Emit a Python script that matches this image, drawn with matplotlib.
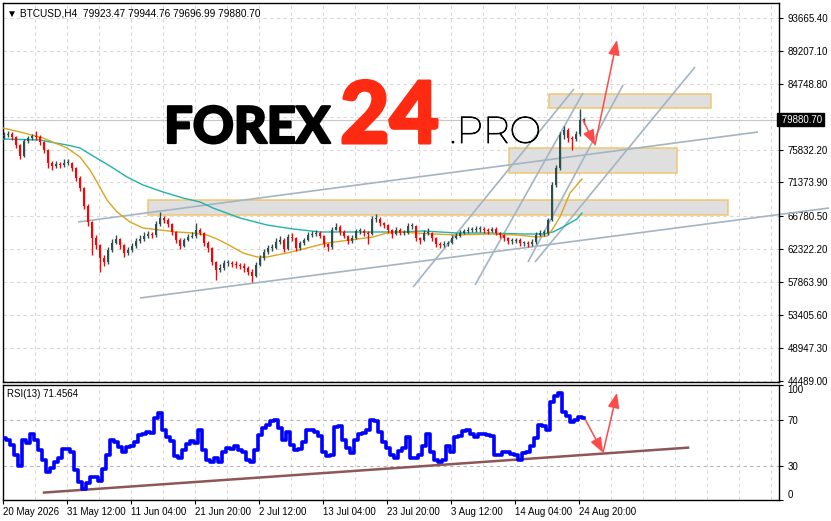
import numpy as np
import matplotlib
matplotlib.use("Agg")
import matplotlib.pyplot as plt
import matplotlib.patheffects as pe
from matplotlib.patches import Rectangle
from matplotlib.textpath import TextPath
from matplotlib import font_manager as fm

close_px = [77810, 77950, 77540, 76460, 74970, 77000, 77400, 77680, 77540, 76860,
            75780, 74020, 73610, 73880, 73750, 74020, 74020, 73340, 71980, 70630,
            68190, 66020, 63850, 62910, 61140, 60600, 62230, 63180, 63720, 62910,
            61820, 62230, 62770, 63450, 63720, 64130, 64400, 64260, 65750, 66560,
            66290, 65750, 64670, 63580, 62770, 63580, 63990, 64130, 64940, 64530,
            63180, 62500, 60600, 59520, 59790, 60470, 60470, 60330, 60200, 60060,
            59790, 59250, 58700, 60200, 61140, 61960, 62500, 62500, 63310, 63580,
            62360, 63990, 63850, 62500, 63180, 63580, 64260, 64400, 64530, 64130,
            63040, 62630, 64940, 65340, 64670, 64130, 63450, 63850, 64800, 64800,
            64530, 64400, 66430, 66430, 65890, 65620, 64940, 64400, 64940, 64530,
            64530, 65480, 65480, 63850, 63580, 64530, 64530, 63850, 63040, 62910,
            63040, 63180, 63850, 64130, 64530, 64800, 64940, 64940, 65070, 65070,
            64940, 64800, 65070, 64530, 64260, 63850, 63450, 63450, 63580, 63180,
            63180, 63040, 63310, 64260, 64530, 64530, 66290, 71040, 73340, 77810,
            78490, 77400, 77270, 77950, 79840, 79880.70]
high_px = [78200, 78350, 78200, 77700, 76600, 77300, 77700, 78000, 78400, 77800,
           77000, 75900, 74300, 74300, 74200, 74500, 74600, 74200, 73500, 72200,
           70800, 68400, 66200, 64300, 63100, 61500, 62600, 63700, 64300, 63900,
           63100, 62700, 63200, 63900, 64200, 64600, 64800, 64700, 66100, 67350,
           66900, 66500, 65900, 64800, 63800, 63900, 64400, 64600, 65900, 65200,
           64700, 63400, 62700, 60800, 60300, 60900, 60900, 60800, 60700, 60500,
           60400, 60000, 59600, 60600, 61600, 62400, 62900, 63000, 63800, 64100,
           63800, 64400, 64500, 64000, 63500, 63900, 64600, 64800, 64900, 64800,
           64300, 63200, 65300, 65900, 65600, 64900, 64300, 64200, 65100, 65200,
           65100, 64800, 66800, 67150, 66700, 66000, 65800, 65100, 65300, 65200,
           64900, 65900, 65900, 65600, 64000, 64900, 65200, 64700, 64000, 63300,
           63400, 63500, 64200, 64500, 64900, 65100, 65300, 65400, 65500, 65500,
           65300, 65200, 65400, 65300, 64700, 64400, 64000, 63900, 63900, 63800,
           63500, 63400, 63700, 64600, 64900, 64900, 66600, 71400, 73800, 78200,
           79000, 78700, 77700, 78300, 81300, 80100]
low_px = [77300, 77500, 77200, 76100, 74500, 74800, 76700, 77200, 77200, 76500,
          75400, 73300, 73100, 73300, 73400, 73500, 73700, 72900, 71600, 70200,
          67800, 65500, 61600, 62300, 59300, 60000, 60300, 61900, 63000, 62400,
          61300, 61500, 62000, 62500, 63200, 63500, 63900, 63900, 64000, 65500,
          65900, 65300, 64300, 63200, 62400, 62600, 63400, 63800, 63900, 64200,
          62800, 62000, 60200, 58200, 59200, 59500, 60000, 59900, 59800, 59600,
          59300, 58800, 57900, 58500, 60000, 60900, 61700, 62100, 62300, 63100,
          61900, 62200, 63500, 62100, 62200, 62900, 63400, 64000, 64100, 63800,
          62600, 62100, 62400, 65000, 64300, 63800, 63000, 63200, 63700, 64400,
          64100, 63000, 64200, 66000, 65500, 65200, 64500, 63900, 64200, 64200,
          64200, 64400, 65100, 63400, 63100, 63400, 64200, 63500, 62600, 62500,
          62600, 62800, 63000, 63700, 64000, 64400, 64500, 64600, 64700, 64700,
          64500, 64400, 64600, 64200, 63900, 63400, 63000, 63100, 63200, 62800,
          62800, 62700, 62800, 63100, 64100, 64100, 64300, 66100, 70800, 73100,
          77300, 76900, 75800, 77000, 77700, 79300]
first_open = 77700

rsi_vals = [54.3, 52.6, 48.3, 39.6, 30.0, 52.6, 50.0, 57.8, 52.6, 43.9,
            35.2, 24.8, 28.3, 33.5, 37.0, 44.8, 44.8, 42.2, 26.5, 16.1,
            10.0, 15.2, 20.4, 20.4, 17.0, 27.4, 39.6, 52.6, 50.9, 46.5,
            42.2, 46.5, 47.4, 50.9, 57.0, 57.8, 59.6, 58.7, 71.7, 76.1,
            61.3, 55.2, 51.7, 38.7, 37.0, 43.9, 49.1, 51.7, 50.0, 61.3,
            43.9, 35.2, 33.5, 37.0, 33.5, 42.2, 45.7, 44.8, 47.4, 43.9,
            42.2, 35.2, 33.5, 43.9, 57.0, 63.0, 65.7, 69.1, 70.0, 63.0,
            52.6, 59.6, 48.3, 43.9, 44.8, 50.9, 61.3, 61.3, 59.6, 56.1,
            42.2, 38.7, 39.6, 63.9, 64.8, 52.6, 45.7, 41.3, 52.6, 57.8,
            58.7, 61.3, 70.0, 69.1, 59.6, 50.9, 45.7, 39.6, 37.0, 43.0,
            45.7, 55.2, 37.0, 37.0, 39.6, 47.4, 57.8, 42.2, 35.2, 33.5,
            35.2, 47.4, 42.2, 55.2, 56.1, 60.4, 61.3, 57.8, 55.2, 57.8,
            57.8, 57.0, 56.1, 39.6, 39.6, 42.2, 42.2, 40.4, 39.6, 35.2,
            41.3, 42.2, 47.4, 54.3, 65.7, 64.8, 61.3, 85.7, 90.9, 93.5,
            77.0, 73.5, 68.3, 70.0, 72.6, 71.4564]

# moving averages (bar index, price)
ma_fast_bar = [0, 17, 40, 64, 77, 87, 94, 104, 114, 127, 140, 157, 174, 190, 204, 214,
               224, 240, 254, 264, 284, 304, 324, 347, 370, 384, 397, 430, 454, 487,
               514, 534, 544, 549, 557, 567, 579]
ma_fast = [78760, 78218, 77405, 76050, 74830, 73068, 71442, 69003, 67377, 66022, 65209,
           64938, 64667, 64531, 64260, 63718, 63041, 61821, 61279, 61279, 61821, 62499,
           63176, 63583, 63989, 64531, 64667, 64396, 64260, 64396, 64260, 63989, 64125,
           64938, 66699, 69952, 71849]
ma_slow_bar = [0, 37, 47, 64, 77, 90, 107, 124, 140, 160, 180, 197, 210, 237, 264, 290,
               317, 344, 370, 397, 420, 454, 487, 520, 540, 550, 560, 574, 579]
ma_slow = [77269, 77134, 76862, 76456, 76050, 74966, 73610, 72120, 71035, 70087, 69274,
           68732, 67919, 66564, 65615, 65073, 64667, 64667, 64667, 64667, 64802, 64531,
           64531, 64396, 64396, 64667, 65344, 66428, 67242]

# drawn objects: zones (bar0, bar1, price_lo, price_hi)
zones = [(546, 708, 81469, 83367), (506, 674, 72661, 76049), (145, 725, 66970, 69003)]
# trend lines ((bar, price), (bar, price))
trend_lines = [((75, 66022), (755, 78218)),
               ((137, 55723), (826, 67918)),
               ((410, 57214), (571, 84045)),
               ((472, 57485), (580, 83503)),
               ((525, 60602), (620, 84586)),
               ((532, 60602), (692, 87026))]
price_arrows = [((580, 79844), (592, 76456)), ((592, 76456), (614, 90684))]
rsi_line = ((41, 6.5), (685, 45.7))
rsi_arrows = [((583, 69.1), (600, 41.3)), ((600, 41.3), (614, 93.5))]

price_ticks = [93665.40, 89207.10, 84748.80, 80290.50, 75832.20, 71373.90, 66780.50,
               62322.20, 57863.90, 53405.60, 48947.30, 44489.00]
price_labels = ["93665.40", "89207.10", "84748.80", "", "75832.20", "71373.90", "66780.50",
                "62322.20", "57863.90", "53405.60", "48947.30", "44489.00"]
last_price = 79880.70
date_labels = ["20 May 2026", "31 May 12:00", "11 Jun 04:00", "21 Jun 20:00", "2 Jul 12:00",
               "13 Jul 04:00", "23 Jul 20:00", "3 Aug 12:00", "14 Aug 04:00", "24 Aug 20:00"]


def pick_font(ok, prefs):
    # first installed face of a preferred family whose weight passes ok()
    for fam in prefs:
        for f in fm.fontManager.ttflist:
            w = f.weight if isinstance(f.weight, int) else fm.weight_dict.get(f.weight, 400)
            if f.name == fam and f.style == "normal" and ok(w):
                return fm.FontProperties(fname=f.fname)
    return None


# ── figure ────────────────────────────────────────────────────────────────
W, H = 831, 521
plt.rcParams["font.family"] = ["Liberation Sans", "DejaVu Sans"]
fig = plt.figure(figsize=(W / 100, H / 100), dpi=100)
fig.patch.set_facecolor("white")

ax = fig.add_axes([3 / W, 1 - 382 / H, 776 / W, 379 / H])
rax = fig.add_axes([3 / W, 1 - 500 / H, 776 / W, 115 / H])

GRID = dict(color="#d8d8d8", lw=0.8, ls=(0, (3, 3)), zorder=0)
for a in (ax, rax):
    a.set_xlim(0, 776)
    for b in range(32, 776, 32):
        a.axvline(b, **GRID)
    for s in a.spines.values():
        s.set_color("black")
        s.set_linewidth(1)
    a.tick_params(axis="x", length=0, labelbottom=False)
    a.yaxis.tick_right()
    a.tick_params(axis="y", direction="out", length=3, width=0.8, pad=3,
                  labelsize=7, colors="black")

# price panel
ax.set_ylim(44339, 95698)
for p in price_ticks:
    ax.axhline(p, **GRID)
ax.set_yticks(price_ticks)
ax.set_yticklabels(price_labels)
ax.axhline(last_price, color="#c8c8c8", lw=0.8, zorder=1)

for b0, b1, lo, hi in zones:
    ax.add_patch(Rectangle((b0, lo), b1 - b0, hi - lo, facecolor="#dedede",
                           edgecolor="#f2c46a", lw=1.1, alpha=0.95, zorder=1))

ax.plot(ma_slow_bar, ma_slow, color="#20b2aa", lw=1.0, zorder=3)
ax.plot(ma_fast_bar, ma_fast, color="#daa520", lw=1.0, zorder=3)

opens = np.r_[first_open, close_px[:-1]]
closes = np.array(close_px)
bars = np.arange(len(closes)) * 4 + 1
up = closes >= opens
colors = np.where(up, "#2f4f4f", "#ff0000")
ax.vlines(bars, low_px, high_px, colors=colors, lw=1.0, zorder=4)
body = np.maximum(np.abs(closes - opens), 150)
ax.bar(bars, body, width=2.8, bottom=np.minimum(opens, closes), color=colors,
       linewidth=0, zorder=5)

for i, ((b0, p0), (b1, p1)) in enumerate(trend_lines):
    ax.plot([b0, b1], [p0, p1], color="#a3b5c2", lw=1.2, zorder=2,
            clip_on=(i != 1), solid_capstyle="butt")

ARROW = dict(arrowstyle="-|>,head_length=0.9,head_width=0.35",
             color="#ff4a4a", lw=1.1, shrinkA=0, shrinkB=0)
for (b0, p0), (b1, p1) in price_arrows:
    ax.annotate("", xy=(b1, p1), xytext=(b0, p0), arrowprops=ARROW,
                zorder=6, annotation_clip=False)

# current price marker
ax.text(1.0, last_price, " " + f"{last_price:.2f}", transform=ax.get_yaxis_transform(),
        ha="left", va="center", fontsize=7, color="white", zorder=10, clip_on=False,
        bbox=dict(boxstyle="square,pad=0.18", facecolor="black", edgecolor="black"))

ax.text(4 / 776, 1 - 5 / 379, "\u25BC BTCUSD,H4  79923.47 79944.76 79696.99 79880.70",
        transform=ax.transAxes, ha="left", va="top", fontsize=7.3, color="black")

# RSI panel
rax.set_ylim(0.4, 100.4)
for lvl in (70, 30):
    rax.axhline(lvl, color="#b4b4b4", lw=0.8, ls=(0, (3, 3)), zorder=0)
rax.set_yticks([100, 70, 30, 0])
rax.set_yticklabels(["100", "70", "30", "0"])
yl = rax.get_yticklabels()
yl[0].set_va("top")
yl[3].set_va("bottom")
rax.plot(np.arange(len(rsi_vals)) * 4 + 1, rsi_vals, color="#0000ff", lw=2.6,
         drawstyle="steps-mid", zorder=3)
(b0, r0), (b1, r1) = rsi_line
rax.plot([b0, b1], [r0, r1], color="#8e5656", lw=1.8, zorder=2)
for (b0, r0), (b1, r1) in rsi_arrows:
    rax.annotate("", xy=(b1, r1), xytext=(b0, r0), arrowprops=ARROW,
                 zorder=6, annotation_clip=False)
rax.text(4 / 776, 1 - 4 / 115, f"RSI(13) {rsi_vals[-1]:.4f}", transform=rax.transAxes,
         ha="left", va="top", fontsize=7, color="black")

rax.set_xticks(np.arange(len(date_labels)) * 64)
rax.set_xticklabels(date_labels, ha="left")
rax.tick_params(axis="x", length=3, width=0.8, labelbottom=True, labelsize=7, pad=2)

# watermark: each piece sized from its glyph box in the screenshot
PREFS = ["Montserrat", "Lato", "Noto Sans CJK SC", "Roboto", "Inter", "Open Sans",
         "Noto Sans", "DejaVu Sans"]
heavy = pick_font(lambda w: w >= 800, PREFS) or fm.FontProperties(family="DejaVu Sans",
                                                                   weight="bold")
light = pick_font(lambda w: w <= 300, PREFS) or fm.FontProperties(family="DejaVu Sans")

# (text, font, colour, left px, right px, glyph height px, extra stroke)
pieces = [("FOREX", heavy, "black", 168, 342, 35, 1.6),
          ("24", heavy, "#ff2a12", 343, 448, 56, 2.2),
          (".PRO", light, "black", 452, 540, 26, 0.6)]
for txt, fp, col, x0, x1, hpx, stroke in pieces:
    bb = TextPath((0, 0), txt, size=1, prop=fp).get_extents()
    px_per_pt = 100 / 72
    size_h = hpx / (bb.height * px_per_pt)
    size_w = (x1 - x0) / (bb.width * px_per_pt)
    size = (size_h * size_w) ** 0.5
    left = x0 - bb.x0 * size * px_per_pt
    t = fig.text(left / W, 1 - 143 / H, txt, fontproperties=fp, color=col,
                 ha="left", va="baseline", fontsize=size)
    if stroke:
        t.set_path_effects([pe.withStroke(linewidth=stroke, foreground=col)])

fig.savefig("out.png", dpi=100, facecolor="white")
